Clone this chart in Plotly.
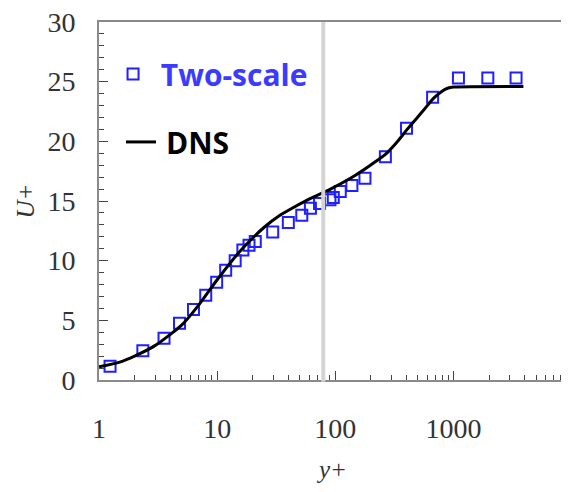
import plotly.graph_objects as go

# Two-scale model (symbols)
two_scale_yplus = [1.24, 2.35, 3.55, 4.8, 6.3, 8.0, 9.9, 11.8, 14.2, 16.5, 18.6, 21.0,
                   29.5, 40.0, 52.0, 61.5, 73.5, 90.0, 96.0, 110.0, 138.0, 178.0,
                   265.0, 400.0, 665.0, 1100.0, 1950.0, 3380.0]
two_scale_uplus = [1.15, 2.45, 3.5, 4.75, 5.9, 7.1, 8.2, 9.2, 10.0, 10.9, 11.3, 11.6,
                   12.4, 13.2, 13.8, 14.4, 14.8, 15.1, 15.3, 15.8, 16.3, 16.9,
                   18.7, 21.1, 23.7, 25.3, 25.3, 25.3]

# DNS profile (line)
dns_yplus = [1.0, 1.5, 2.0, 3.0, 5.0, 7.0, 10.0, 15.0, 20.0, 25.0, 34.0, 45.0, 61.0,
             91.0, 134.0, 198.0, 265.0, 330.0, 405.0, 557.0, 676.0, 800.0, 890.0,
             1000.0, 3900.0]
dns_uplus = [1.1, 1.5, 2.0, 2.9, 4.6, 6.3, 8.4, 10.6, 11.9, 12.8, 13.8, 14.5, 15.2,
             16.0, 16.9, 18.0, 18.9, 19.9, 21.0, 22.6, 23.6, 24.2, 24.45,
             24.55, 24.6]

marker_line_yplus = 79

tick_vals = [1, 10, 100, 1000]
tick_text = ["1", "10", "100", "1000"]

serif = "Liberation Serif, Times New Roman, serif"
sans = "Open Sans, Liberation Sans, sans-serif"

fig = go.Figure()

fig.add_trace(go.Scatter(
    x=two_scale_yplus, y=two_scale_uplus,
    mode="markers",
    name="<span style='color:#3b3bff'><b>\u00a0Two-scale</b></span>",
    marker=dict(symbol="square-open", size=11, color="#1f1fff",
                line=dict(width=2, color="#1f1fff")),
    legend="legend",
))

fig.add_trace(go.Scatter(
    x=dns_yplus, y=dns_uplus,
    mode="lines",
    line=dict(color="black", width=3, shape="spline", smoothing=0.6),
    name="<b>\u2009DNS</b>",
    legend="legend2",
))

fig.add_shape(type="line", xref="x", yref="paper",
              x0=marker_line_yplus, x1=marker_line_yplus, y0=-0.005, y1=1,
              line=dict(color="#d4d4d4", width=4), layer="above")

fig.update_xaxes(
    type="log", range=[0, 3.96], automargin=False,
    tickvals=tick_vals, ticktext=tick_text,
    ticks="inside", ticklen=9, tickwidth=1, tickcolor="#444",
    minor=dict(ticks="inside", ticklen=5, tickwidth=1, tickcolor="#444",
               dtick="D1", showgrid=False),
    showline=True, linecolor="#8a8a8a", linewidth=2, mirror=True,
    showgrid=False, zeroline=False,
    tickfont=dict(family=serif, size=28, color="#333"),
    ticklabelstandoff=22, ticklabeloverflow="allow",
    title=dict(text="<i>y+</i>", font=dict(family=serif, size=25, color="#333"), standoff=18),
)

fig.update_yaxes(
    range=[0, 30], dtick=5, automargin=False,
    ticks="inside", ticklen=9, tickwidth=1, tickcolor="#444",
    minor=dict(ticks="inside", ticklen=5, tickwidth=1, tickcolor="#444",
               dtick=1, showgrid=False),
    showline=True, linecolor="#8a8a8a", linewidth=2, mirror=True,
    showgrid=False, zeroline=False,
    tickfont=dict(family=serif, size=28, color="#333"),
    ticklabelstandoff=16, ticklabeloverflow="allow",
    title=dict(text="<i>U+</i>", font=dict(family=serif, size=25, color="#333"), standoff=6),
)

# the page adds an 8px offset, so margins are shifted to land on the window
fig.update_layout(
    width=569, height=492,
    paper_bgcolor="white", plot_bgcolor="white",
    margin=dict(l=91, r=10, t=14, b=120),
    showlegend=True,
    legend=dict(x=0.03, y=0.855, xanchor="left", yanchor="middle",
                bgcolor="rgba(0,0,0,0)", font=dict(family=sans, size=30),
                itemwidth=30),
    legend2=dict(x=0.047, y=0.665, xanchor="left", yanchor="middle",
                 bgcolor="rgba(0,0,0,0)", font=dict(family=sans, size=30, color="black"),
                 itemwidth=30),
)

fig.write_html("out.html")
